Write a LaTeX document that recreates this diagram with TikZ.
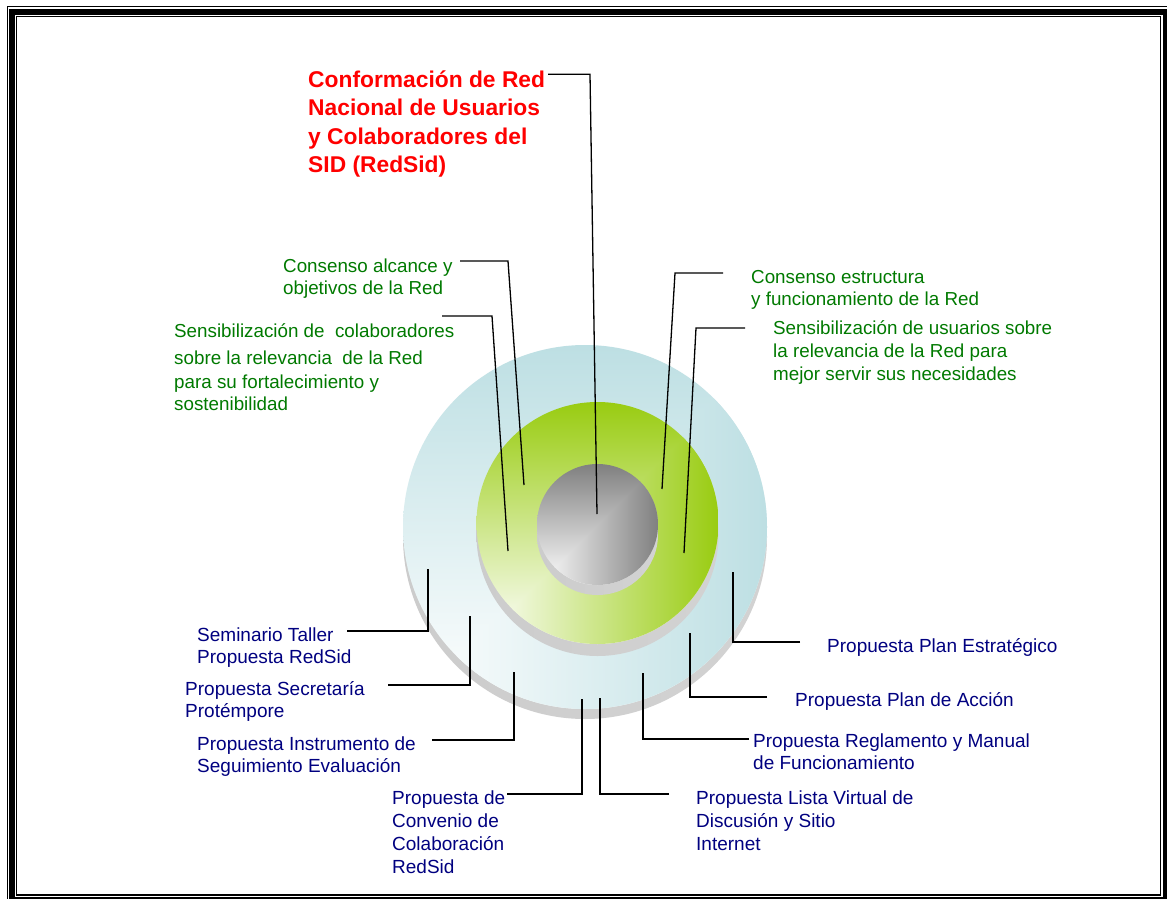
\documentclass[tikz,border=0pt]{standalone}
\usepackage{fontspec}
\setmainfont{Liberation Sans}
\definecolor{tGreen}{RGB}{0,122,0}
\definecolor{tNavy}{RGB}{0,0,128}
\definecolor{tRed}{RGB}{255,0,0}
\definecolor{faceBlue}{RGB}{189,223,227}
\definecolor{faceGreen}{RGB}{153,204,17}
\definecolor{faceGrey}{RGB}{128,128,128}
\newcommand{\drawdisc}[5]{%
  \shade[left color=gray!40, middle color=gray!70, right color=gray!35] (#1,#2+#5) circle[radius=#3];
  \begin{scope}
    \clip (#1,#2) circle[radius=#3];
    \shade[top color=#4, bottom color=white] (#1-#3,#2-#3) rectangle (#1+#3,#2+#3);
    \clip (#1-#3,#2+#3) -- (#1+#3,#2-#3) -- (#1+#3,#2+#3) -- cycle;
    \shade[left color=white, right color=#4] (#1-#3,#2-#3) rectangle (#1+#3,#2+#3);
  \end{scope}}
\begin{document}
\begin{tikzpicture}[x=1pt,y=-1pt,
  lbl/.style={anchor=north west, inner sep=0pt, align=left},
  gtxt/.style={lbl, text=tGreen, font=\fontsize{18.8}{22}\selectfont},
  btxt/.style={lbl, text=tNavy, font=\fontsize{19}{22}\selectfont},
  ttxt/.style={lbl, text=tRed, font=\fontsize{22.8}{28.3}\selectfont\bfseries},
  conn/.style={line width=1.3pt, black}]
\useasboundingbox (0,0) rectangle (1167,899);
\fill[white] (0,0) rectangle (1167,899);
% page border
\draw[line width=1pt] (7,6.7) rectangle (1171,904);
\draw[line width=5.5pt] (12,12) rectangle (1166,899.5);
\draw[line width=1.2pt] (16.6,16.3) rectangle (1160.2,895);
% discs
\drawdisc{585}{527}{182}{faceBlue}{10}
\drawdisc{597.5}{523}{121}{faceGreen}{12}
\drawdisc{597.5}{524.5}{60.5}{faceGrey}{10}
% texts
\node[ttxt] (title) at (308,70.5) {Conformación de Red\\Nacional de Usuarios\\y Colaboradores del\\SID (RedSid)};
\node[gtxt] (g1) at (283,258.5) {Consenso alcance y\\objetivos de la Red};
\node[gtxt] (g2) at (174,323) {Sensibilización de~ colaboradores\\[5pt]sobre la relevancia~ de la Red\\[2pt]para su fortalecimiento y\\sostenibilidad};
\node[gtxt] (g3) at (751,270) {Consenso estructura\\y funcionamiento de la Red};
\node[gtxt, font=\fontsize{18.8}{23}\selectfont] (g4) at (773,320) {Sensibilización de usuarios sobre\\la relevancia de la Red para\\mejor servir sus necesidades};
\node[btxt] (b1) at (197,627.5) {Seminario Taller\\Propuesta RedSid};
\node[btxt, font=\fontsize{19}{21.5}\selectfont] (b2) at (185,681.5) {Propuesta Secretaría\\Protémpore};
\node[btxt, font=\fontsize{19}{21.5}\selectfont] (b3) at (197,737) {Propuesta Instrumento de\\Seguimiento Evaluación};
\node[btxt, font=\fontsize{19}{23}\selectfont] (b4) at (392,791) {Propuesta de\\Convenio de\\Colaboración\\RedSid};
\node[btxt, font=\fontsize{19}{23}\selectfont] (b5) at (696,791) {Propuesta Lista Virtual de\\Discusión y Sitio\\Internet};
\node[btxt] (b6) at (753,734) {Propuesta Reglamento y Manual\\de Funcionamiento};
\node[btxt] (b7) at (795,692.3) {Propuesta Plan de Acción};
\node[btxt] (b8) at (827,638.3) {Propuesta Plan Estratégico};
% connector points
\coordinate (tA) at (548,74.3); \coordinate (tB) at (590,74.3); \coordinate (tC) at (597,514);
\coordinate (g1A) at (460,261); \coordinate (g1B) at (508,261); \coordinate (g1C) at (524,485);
\coordinate (g2A) at (442,316); \coordinate (g2B) at (492,316); \coordinate (g2C) at (508,551);
\coordinate (g3A) at (723,273); \coordinate (g3B) at (675,273); \coordinate (g3C) at (662,489);
\coordinate (g4A) at (745,328); \coordinate (g4B) at (696,328); \coordinate (g4C) at (684,553);
\coordinate (b1A) at (347,631); \coordinate (b1B) at (428,631); \coordinate (b1C) at (428,569);
\coordinate (b2A) at (388,685); \coordinate (b2B) at (470,685); \coordinate (b2C) at (470,616);
\coordinate (b3A) at (432,740); \coordinate (b3B) at (514,740); \coordinate (b3C) at (514,672);
\coordinate (b4A) at (507,794); \coordinate (b4B) at (582,794); \coordinate (b4C) at (582,699);
\coordinate (b5A) at (669,794); \coordinate (b5B) at (600,794); \coordinate (b5C) at (600,698);
\coordinate (b6A) at (749,739); \coordinate (b6B) at (643,739); \coordinate (b6C) at (643,673);
\coordinate (b7A) at (767,697); \coordinate (b7B) at (690,697); \coordinate (b7C) at (690,633);
\coordinate (b8A) at (800,642); \coordinate (b8B) at (733,642); \coordinate (b8C) at (733,572);
\foreach \c in {t,g1,g2,g3,g4,b1,b2,b3,b4,b5,b6,b7,b8}
  \draw[conn] (\c A) -- (\c B) -- (\c C);
\end{tikzpicture}
\end{document}
